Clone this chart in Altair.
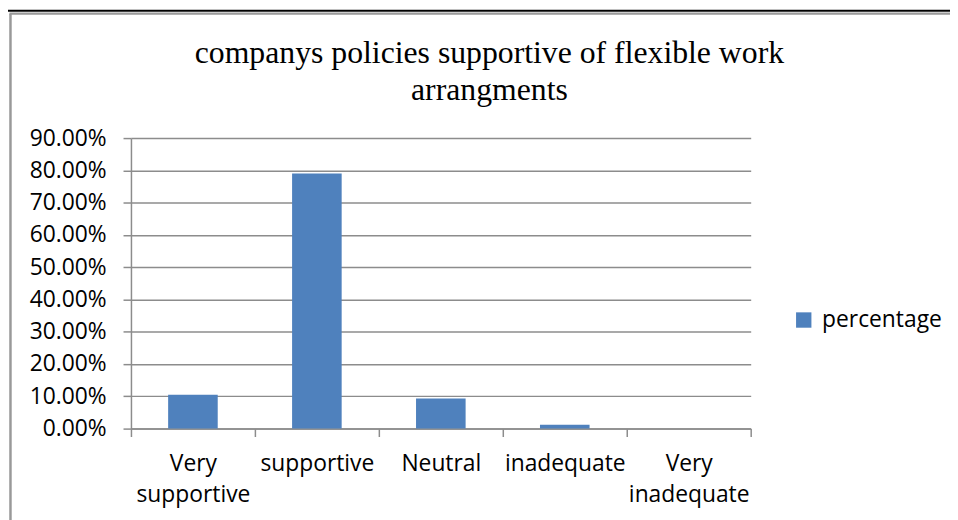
import altair as alt
import pandas as pd

# ---- data ----
categories = ["Very supportive", "supportive", "Neutral", "inadequate", "Very inadequate"]
percentages = [0.105, 0.79, 0.093, 0.012, 0.0]
series_name = "percentage"
y_tick_values = [0.0, 0.1, 0.2, 0.3, 0.4, 0.5, 0.6, 0.7, 0.8, 0.9]
title_lines = ["companys policies supportive of flexible work", "arrangments"]

BAR = "#4F81BD"
GRID = "#8c8c8c"
SANS = "Open Sans"
SERIF = "Liberation Serif"
FS = 23

df = pd.DataFrame({
    "category": categories,
    "value": percentages,
    "series": [series_name] * len(categories),
})

bars = alt.Chart(df).mark_bar(color=BAR, width=alt.RelativeBandSize(0.4)).encode(
    x=alt.X(
        "category:N",
        sort=categories,
        title=None,
        scale=alt.Scale(paddingInner=0, paddingOuter=0),
        axis=alt.Axis(
            labelAngle=0,
            labelExpr="split(datum.label, ' ')",
            labelFont=SANS,
            labelFontSize=FS,
            labelColor="black",
            labelBaseline="top",
            labelLineHeight=32,
            labelPadding=16,
            tickBand="extent",
            tickSize=8,
            tickColor=GRID,
            tickWidth=1.5,
            domainColor=GRID,
            domainWidth=1.5,
            grid=False,
        ),
    ),
    y=alt.Y(
        "value:Q",
        title=None,
        scale=alt.Scale(domain=[0, 0.9], nice=False),
        axis=alt.Axis(
            values=y_tick_values,
            format=".2%",
            labelFont=SANS,
            labelFontSize=FS,
            labelColor="black",
            labelPadding=17,
            tickSize=8,
            tickColor=GRID,
            tickWidth=1.5,
            domainColor=GRID,
            domainWidth=1.5,
            grid=True,
            gridColor=GRID,
            gridWidth=1.5,
        ),
    ),
    color=alt.Color(
        "series:N",
        scale=alt.Scale(range=[BAR]),
        legend=alt.Legend(
            title=None,
            orient="none",
            legendX=667,
            legendY=172,
            symbolType="square",
            symbolSize=240,
            symbolStrokeWidth=0,
            labelFont=SANS,
            labelFontSize=FS,
            labelColor="black",
            labelOffset=7,
        ),
    ),
)

deco = alt.Data(values=[{"k": 1}])
frame_left = alt.Chart(deco).mark_rule(color="#999999", strokeWidth=2.5).encode(
    x=alt.value(-121.5), y=alt.value(-125.5), y2=alt.value(400)
)
frame_top = alt.Chart(deco).mark_rule(color="#999999", strokeWidth=2.5).encode(
    x=alt.value(-122.5), x2=alt.value(900), y=alt.value(-125.5)
)
table_line = alt.Chart(deco).mark_rule(color="black", strokeWidth=2).encode(
    x=alt.value(-140), x2=alt.value(900), y=alt.value(-128.5)
)

chart = alt.layer(table_line, frame_left, frame_top, bars).properties(
    width=625,
    height=293,
    padding={"left": 124, "top": 129, "right": 201, "bottom": 90},
    autosize=alt.AutoSizeParams(type="none"),
    title=alt.TitleParams(
        text=title_lines,
        font=SERIF,
        fontSize=32,
        fontWeight="normal",
        color="black",
        anchor="middle",
        dx=49,
        offset=-130,
        baseline="bottom",
        lineHeight=37,
    ),
).configure_view(stroke=None)

chart.save("out.html", embed_options={"renderer": "svg", "actions": False})
